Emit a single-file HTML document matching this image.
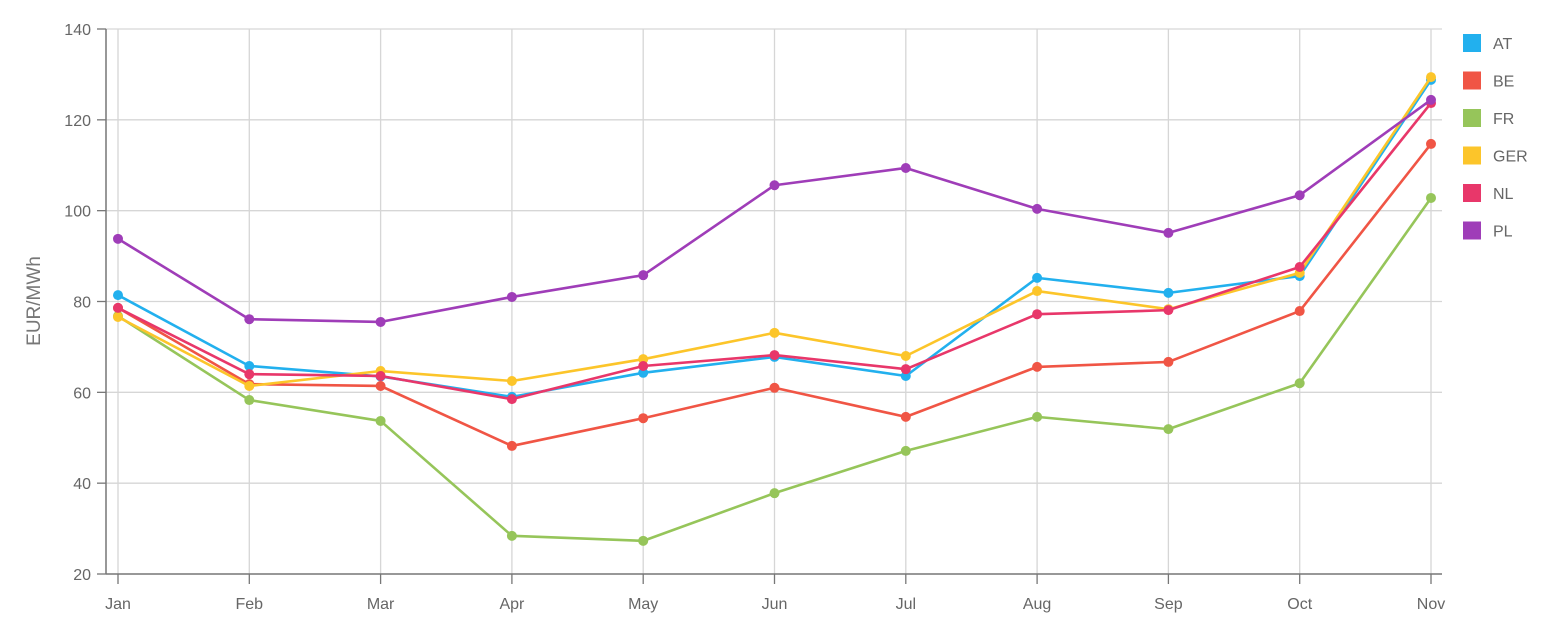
<!DOCTYPE html>
<html><head><meta charset="utf-8"><style>
body{margin:0;background:#fff;font-family:"Liberation Sans",sans-serif;}
svg text{font-family:"Liberation Sans",sans-serif;fill:#666;}
</style></head><body>
<svg id="chart" width="1542" height="622" xmlns="http://www.w3.org/2000/svg">
<g id="grid"></g>
<g id="axes"></g>
<g id="series"></g>
<g id="legend"></g>
<text transform="translate(40,301) rotate(-90)" text-anchor="middle" font-size="19" style="fill:#777">EUR/MWh</text>
</svg>
<script>
const categories=["Jan","Feb","Mar","Apr","May","Jun","Jul","Aug","Sep","Oct","Nov"];
const yTicks=[20,40,60,80,100,120,140];
const seriesNames=["AT","BE","FR","GER","NL","PL"];
const seriesColors=["#22b0ee","#f05545","#96c55a","#fcc52a","#e8376a","#9f3db8"];
const valAT=[81.4,65.8,63.5,59,64.3,67.8,63.6,85.2,81.9,85.6,128.8];
const valBE=[78.6,61.8,61.4,48.2,54.3,61,54.6,65.6,66.7,77.9,114.7];
const valFR=[76.8,58.3,53.7,28.4,27.3,37.8,47.1,54.6,51.9,62,102.8];
const valGER=[76.6,61.4,64.7,62.5,67.3,73.1,68,82.3,78.3,86.3,129.4];
const valNL=[78.6,64,63.6,58.5,65.8,68.2,65.1,77.2,78.1,87.6,123.7];
const valPL=[93.8,76.1,75.5,81,85.8,105.6,109.4,100.4,95.1,103.4,124.4];
const allVals=[valAT,valBE,valFR,valGER,valNL,valPL];
const NS="http://www.w3.org/2000/svg";
const x0=118,x1=1431,yTop=29,yBot=574,left=106,right=1442;
const yMin=20,yMax=140;
function xs(i){return x0+(x1-x0)*i/(categories.length-1);}
function ys(v){return yBot-(v-yMin)/(yMax-yMin)*(yBot-yTop);}
function mk(tag,attrs,parent){const e=document.createElementNS(NS,tag);for(const k in attrs)e.setAttribute(k,attrs[k]);parent.appendChild(e);return e;}
const grid=document.getElementById('grid'),axes=document.getElementById('axes'),ser=document.getElementById('series'),leg=document.getElementById('legend');
yTicks.forEach(t=>{
  const y=ys(t);
  if(t!==yMin){const l=mk('line',{x1:left,x2:right,y1:y,y2:y,stroke:'#d6d6d6','stroke-width':1.3},grid);
  
  }
  const tk=mk('line',{x1:97,x2:left,y1:y,y2:y,stroke:'#777','stroke-width':1.3},axes);
  
  
  const tx=mk('text',{x:91,y:y+6,'text-anchor':'end','font-size':16},axes);
  tx.textContent=t;
  
  
});
categories.forEach((c,i)=>{
  const x=xs(i);
  const l=mk('line',{x1:x,x2:x,y1:yTop,y2:yBot,stroke:'#d6d6d6','stroke-width':1.3},grid);
  
  
  const tk=mk('line',{x1:x,x2:x,y1:yBot,y2:yBot+10,stroke:'#777','stroke-width':1.3},axes);
  
  
  const tx=mk('text',{x:x,y:609,'text-anchor':'middle','font-size':16},axes);
  tx.textContent=c;
  
  
});
const ya=mk('line',{x1:left,x2:left,y1:yTop,y2:yBot,stroke:'#777','stroke-width':1.5},axes);


const xa=mk('line',{x1:left,x2:right,y1:yBot,y2:yBot,stroke:'#777','stroke-width':1.5},axes);


allVals.forEach((vals,s)=>{
  const g=mk('g',{},ser);
  
  
  const p=mk('polyline',{points:vals.map((v,i)=>xs(i)+','+ys(v)).join(' '),fill:'none',stroke:seriesColors[s],'stroke-width':2.6,'stroke-linejoin':'round'},g);
  
  
  vals.forEach((v,i)=>{
    const c=mk('circle',{cx:xs(i),cy:ys(v),r:5,fill:seriesColors[s]},g);
    
    
  });
});
seriesNames.forEach((n,s)=>{
  const cy=43+s*37.5;
  const g=mk('g',{},leg);
  
  
  mk('rect',{x:1463,y:cy-9,width:18,height:18,fill:seriesColors[s]},g);
  const t=mk('text',{x:1493,y:cy+6,'font-size':16},g);
  t.textContent=n;
});
</script>
</body></html>
